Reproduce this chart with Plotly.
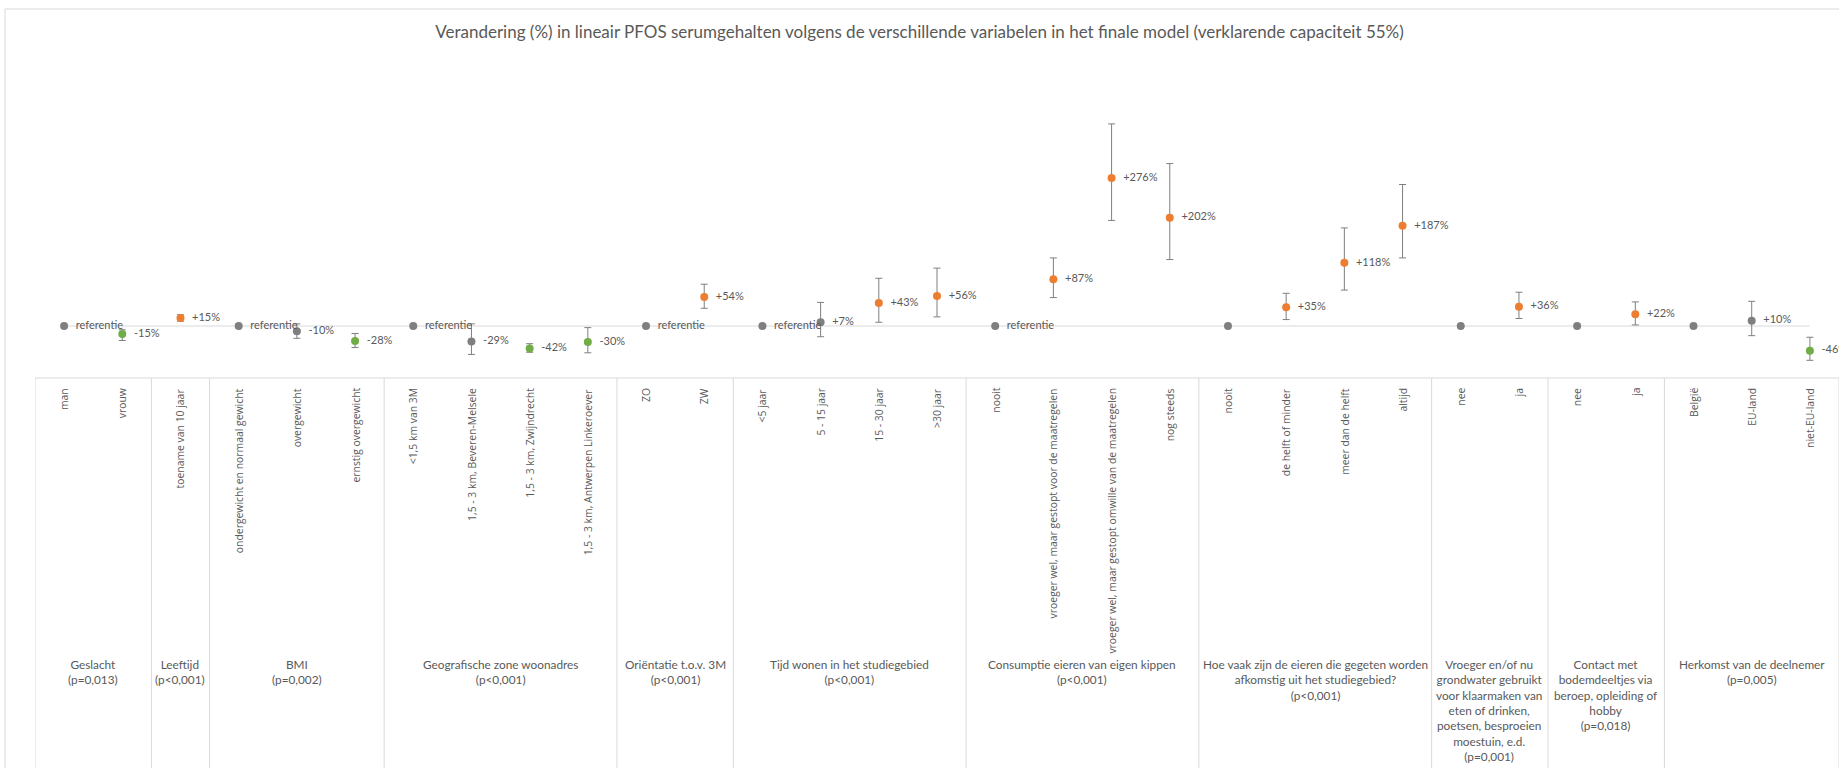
import plotly.graph_objects as go

# ---------------------------------------------------------------- data
title_text = ("Verandering (%) in lineair PFOS serumgehalten volgens de verschillende "
              "variabelen in het finale model (verklarende capaciteit 55%)")

group_labels = [
    "Geslacht<br>(p=0,013)",
    "Leeftijd<br>(p&lt;0,001)",
    "BMI<br>(p=0,002)",
    "Geografische zone woonadres<br>(p&lt;0,001)",
    "Oriëntatie t.o.v. 3M<br>(p&lt;0,001)",
    "Tijd wonen in het studiegebied<br>(p&lt;0,001)",
    "Consumptie eieren van eigen kippen<br>(p&lt;0,001)",
    "Hoe vaak zijn de eieren die gegeten worden<br>afkomstig uit het studiegebied?<br>(p&lt;0,001)",
    "Vroeger en/of nu<br>grondwater gebruikt<br>voor klaarmaken van<br>eten of drinken,<br>"
    "poetsen, besproeien<br>moestuin, e.d.<br>(p=0,001)",
    "Contact met<br>bodemdeeltjes via<br>beroep, opleiding of<br>hobby<br>(p=0,018)",
    "Herkomst van de deelnemer<br>(p=0,005)",
]
group_sizes = [2, 1, 3, 4, 2, 4, 4, 4, 2, 2, 3]
# whether the reference level of a group carries the "referentie" label
group_ref_labelled = [True, True, True, True, True, True, True, False, False, False, False]

categories = [
    "man", "vrouw",
    "toename van 10 jaar",
    "ondergewicht en normaal gewicht", "overgewicht", "ernstig overgewicht",
    "&lt;1,5 km van 3M", "1,5 - 3 km, Beveren-Melsele", "1,5 - 3 km, Zwijndrecht",
    "1,5 - 3 km, Antwerpen Linkeroever",
    "ZO", "ZW",
    "&lt;5 jaar", "5 - 15 jaar", "15 - 30 jaar", "&gt;30 jaar",
    "nooit", "vroeger wel, maar gestopt voor de maatregelen",
    "vroeger wel, maar gestopt omwille van de maatregelen", "nog steeds",
    "nooit", "de helft of minder", "meer dan de helft", "altijd",
    "nee", "ja",
    "nee", "ja",
    "België", "EU-land", "niet-EU-land",
]

# percent change vs. reference level (None = reference level)
estimates = [
    None, -15,
    15,
    None, -10, -28,
    None, -29, -42, -30,
    None, 54,
    None, 7, 43, 56,
    None, 87, 276, 202,
    None, 35, 118, 187,
    None, 36,
    None, 22,
    None, 10, -46,
]
ci_low = [
    None, -27,
    9,
    None, -23, -40,
    None, -53, -49, -50,
    None, 33,
    None, -20, 7, 17,
    None, 53, 197, 124,
    None, 12, 67, 127,
    None, 14,
    None, 2,
    None, -18, -64,
]
ci_high = [
    None, -7,
    21,
    None, 4, -14,
    None, 4, -33, -3,
    None, 78,
    None, 44, 89, 108,
    None, 127, 377, 303,
    None, 61, 183, 264,
    None, 63,
    None, 45,
    None, 46, -21,
]

# ---------------------------------------------------------------- styling
W, H = 1839, 768
L = 35            # left edge of plot area (px)
T, B = 60, 378    # top / bottom of plot area (px)
ZERO_PX = 326     # pixel row of the 0 % line
PX_PER_PCT = 0.536

ORANGE = "#ED7D31"
GREEN = "#70AD47"
GREY = "#7F7F7F"
TEXT = "#595959"
LINE = "#D9D9D9"
GAP = "\u00a0\u00a0"   # spacing between a marker and its data label


def paper_y(px):
    return (B - px) / (B - T)


def paper_x(px):
    return (px - L) / (W - L)


y_max = (ZERO_PX - T) / PX_PER_PCT
y_min = (ZERO_PX - B) / PX_PER_PCT
n_cat = len(categories)

# group start indices
group_starts = []
pos = 0
for s in group_sizes:
    group_starts.append(pos)
    pos += s

# ---------------------------------------------------------------- traces
est_x, est_y, err_plus, err_minus, est_col, est_txt = [], [], [], [], [], []
ref_x, ref_txt = [], []
for gi, start in enumerate(group_starts):
    for i in range(start, start + group_sizes[gi]):
        if estimates[i] is None:
            ref_x.append(i)
            ref_txt.append(GAP + "referentie" if group_ref_labelled[gi] else "")
        else:
            v = estimates[i]
            est_x.append(i)
            est_y.append(v)
            err_plus.append(ci_high[i] - v)
            err_minus.append(v - ci_low[i])
            if ci_low[i] > 0:
                est_col.append(ORANGE)
            elif ci_high[i] < 0:
                est_col.append(GREEN)
            else:
                est_col.append(GREY)
            est_txt.append(GAP + f"{v:+d}%")

fig = go.Figure()

fig.add_trace(go.Scatter(
    x=est_x, y=est_y, mode="markers+text",
    marker=dict(size=8, color=est_col, line=dict(width=0)),
    error_y=dict(type="data", symmetric=False, array=err_plus, arrayminus=err_minus,
                 color=GREY, thickness=1, width=3.5),
    text=est_txt, textposition="middle right",
    textfont=dict(family="Lato", size=11, color=TEXT),
    cliponaxis=False, showlegend=False, hoverinfo="skip",
))

fig.add_trace(go.Scatter(
    x=ref_x, y=[0] * len(ref_x), mode="markers+text",
    marker=dict(size=8, color=GREY, line=dict(width=0)),
    text=ref_txt, textposition="middle right",
    textfont=dict(family="Lato", size=11, color=TEXT),
    cliponaxis=False, showlegend=False, hoverinfo="skip",
))

# ---------------------------------------------------------------- shapes
shapes = []
# 0 % axis line between first and last category
shapes.append(dict(type="line", xref="x", yref="y", x0=0, x1=n_cat - 1, y0=0, y1=0,
                   line=dict(color=LINE, width=1), layer="below"))
# outer chart border
shapes.append(dict(type="rect", xref="paper", yref="paper",
                   x0=paper_x(5), x1=paper_x(W + 20), y0=paper_y(9), y1=paper_y(H + 20),
                   line=dict(color=LINE, width=1), fillcolor="rgba(0,0,0,0)", layer="below"))
# top line of the category table
shapes.append(dict(type="line", xref="paper", yref="paper", x0=0, x1=1, y0=0, y1=0,
                   line=dict(color=LINE, width=1), layer="below"))
# group separators
bounds = group_starts + [n_cat]
for b in bounds:
    shapes.append(dict(type="line", xref="x", yref="paper", x0=b - 0.5, x1=b - 0.5,
                       y0=0, y1=paper_y(H + 5), line=dict(color=LINE, width=1), layer="below"))

# ---------------------------------------------------------------- annotations
annotations = []
for i, c in enumerate(categories):
    annotations.append(dict(
        x=i, xref="x", y=paper_y(386), yref="paper", text=c, textangle=-90,
        xanchor="center", yanchor="top", showarrow=False,
        font=dict(family="Open Sans", size=10.4, color=TEXT),
    ))
for gi, start in enumerate(group_starts):
    centre = start + (group_sizes[gi] - 1) / 2
    annotations.append(dict(
        x=centre, xref="x", y=paper_y(655), yref="paper", text=group_labels[gi],
        xanchor="center", yanchor="top", align="center", showarrow=False,
        font=dict(family="Lato", size=11.8, color=TEXT),
    ))

fig.update_layout(
    width=W, height=H,
    margin=dict(l=L, r=0, t=T, b=H - B, pad=0),
    paper_bgcolor="white", plot_bgcolor="white",
    title=dict(text=title_text, x=0.5, xref="container", xanchor="center",
               y=1 - 32 / H, yref="container", yanchor="middle",
               font=dict(family="Lato", size=17, color=TEXT)),
    xaxis=dict(range=[-0.5, n_cat - 0.5], visible=False, fixedrange=True),
    yaxis=dict(range=[y_min, y_max], visible=False, fixedrange=True),
    shapes=shapes, annotations=annotations,
)

fig.write_html("out.html", config={"displayModeBar": False})
